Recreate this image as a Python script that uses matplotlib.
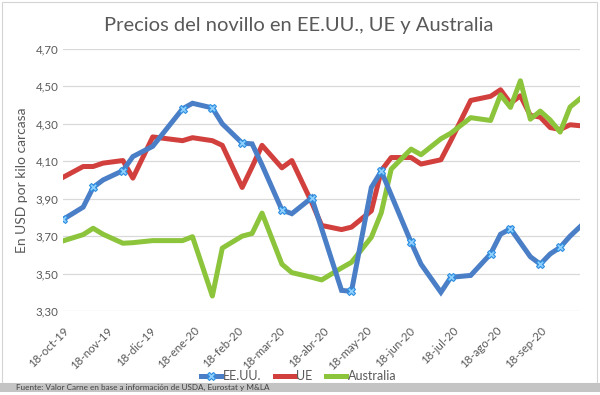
import matplotlib
matplotlib.use("Agg")
import matplotlib.pyplot as plt
import matplotlib.dates as mdates
from matplotlib.patches import Rectangle
import pandas as pd

# weekly dates (Fridays)
dates = ["2019-10-18", "2019-11-01", "2019-11-08", "2019-11-15", "2019-11-29",
         "2019-12-06", "2019-12-20", "2020-01-10", "2020-01-17", "2020-01-31",
         "2020-02-07", "2020-02-21", "2020-02-28", "2020-03-06", "2020-03-20",
         "2020-03-27", "2020-04-10", "2020-04-17", "2020-05-01", "2020-05-08",
         "2020-05-22", "2020-05-29", "2020-06-05", "2020-06-19", "2020-06-26",
         "2020-07-10", "2020-07-17", "2020-07-31", "2020-08-14", "2020-08-21",
         "2020-08-28", "2020-09-04", "2020-09-11", "2020-09-18", "2020-09-25",
         "2020-10-02", "2020-10-09", "2020-10-16"]

usa = [3.79, 3.855, 3.96, 4.00, 4.05, 4.125, 4.18, 4.38, 4.41, 4.385,
       4.30, 4.197, 4.193, 4.08, 3.84, 3.82, 3.905, 3.74, 3.41, 3.405,
       3.96, 4.047, 3.92, 3.667, 3.55, 3.40, 3.48, 3.49, 3.605, 3.71,
       3.74, 3.665, 3.59, 3.55, 3.605, 3.64, 3.70, 3.75]

ue = [4.015, 4.072, 4.072, 4.09, 4.104, 4.01, 4.23, 4.21, 4.226, 4.21,
      4.185, 3.96, 4.07, 4.185, 4.065, 4.104, 3.88, 3.757, 3.735, 3.748,
      3.835, 4.05, 4.12, 4.12, 4.085, 4.108, 4.21, 4.425, 4.447, 4.482,
      4.41, 4.45, 4.345, 4.336, 4.28, 4.27, 4.295, 4.29]

australia = [3.675, 3.708, 3.742, 3.71, 3.662, 3.665, 3.676, 3.676, 3.697, 3.38,
             3.636, 3.70, 3.714, 3.823, 3.55, 3.505, 3.48, 3.466, 3.53, 3.56,
             3.694, 3.825, 4.058, 4.165, 4.135, 4.22, 4.25, 4.333, 4.318, 4.455,
             4.388, 4.53, 4.325, 4.368, 4.32, 4.256, 4.39, 4.434]

# points of the US series that carry a marker
usa_marked = [0, 2, 4, 7, 9, 11, 14, 16, 19, 21, 23, 26, 28, 30, 33, 35]

month_names = ["ene", "feb", "mar", "abr", "may", "jun",
               "jul", "ago", "sep", "oct", "nov", "dic"]
y_ticks = [3.30, 3.50, 3.70, 3.90, 4.10, 4.30, 4.50, 4.70]

plt.rcParams['font.family'] = ['Lato', 'DejaVu Sans']
grey_text = '#595959'

x = pd.to_datetime(dates)

fig = plt.figure(figsize=(6, 3.95), dpi=100)
ax = fig.add_axes([0.1055, 0.2127, 0.8612, 0.6633])

ax.plot(x, usa, color='#4a7ec6', lw=3.6, solid_joinstyle='miter', zorder=3,
        marker='X', markevery=usa_marked, markersize=6,
        markerfacecolor='#8fd0ff', markeredgecolor='#2f8fe0', markeredgewidth=0.8,
        label='EE.UU.')
ax.plot(x, ue, color='#d2403e', lw=3.6, zorder=2, label='UE')
ax.plot(x, australia, color='#8cc43c', lw=3.6, zorder=2, label='Australia')

ax.set_xlim(x[0], x[-1])
ax.set_ylim(3.30, 4.70)
ax.set_yticks(y_ticks)
ax.set_yticklabels([f"{v:.2f}".replace('.', ',') for v in y_ticks])
ax.grid(axis='y', color='#d9d9d9', lw=0.9)
ax.set_axisbelow(True)
for s in ax.spines.values():
    s.set_visible(False)

ax.xaxis.set_major_locator(mdates.MonthLocator(bymonthday=18))
ax.xaxis.set_major_formatter(matplotlib.ticker.FuncFormatter(
    lambda v, pos: "18-%s-%s" % (month_names[mdates.num2date(v).month - 1],
                                 mdates.num2date(v).strftime('%y'))))
ax.tick_params(axis='both', length=0, colors=grey_text, labelsize=8.3)
ax.tick_params(axis='x', pad=10)
for lab in ax.get_xticklabels():
    lab.set_rotation(45)
    lab.set_ha('right')
    lab.set_va('top')
    lab.set_rotation_mode('anchor')

ax.set_ylabel("En USD por kilo carcasa", fontsize=10, color=grey_text, va='center')
ax.yaxis.set_label_coords(-0.08, 0.5)

fig.text(0.498, 0.935, "Precios del novillo en EE.UU., UE y Australia",
         ha='center', va='center', fontsize=14.5, color=grey_text)

fig.legend(loc='center', bbox_to_anchor=(0.498, 0.048), ncol=3, frameon=False,
           fontsize=9, handlelength=1.6, handletextpad=0.1, columnspacing=1.1,
           labelcolor=grey_text)

# chart frame and grey source strip
fig.patches.append(Rectangle((0.004, 0.03), 0.991, 0.966, transform=fig.transFigure,
                             fill=False, edgecolor='#d4d4d4', lw=0.8))
fig.patches.append(Rectangle((0, 0.008), 1, 0.022, transform=fig.transFigure,
                             facecolor='#c4c4c4', edgecolor='none'))
fig.text(0.027, 0.019, "Fuente: Valor Carne en base a información de USDA, Eurostat y M&LA",
         ha='left', va='center', fontsize=5.9, color='#404040')

fig.savefig("out.png", dpi=100)
